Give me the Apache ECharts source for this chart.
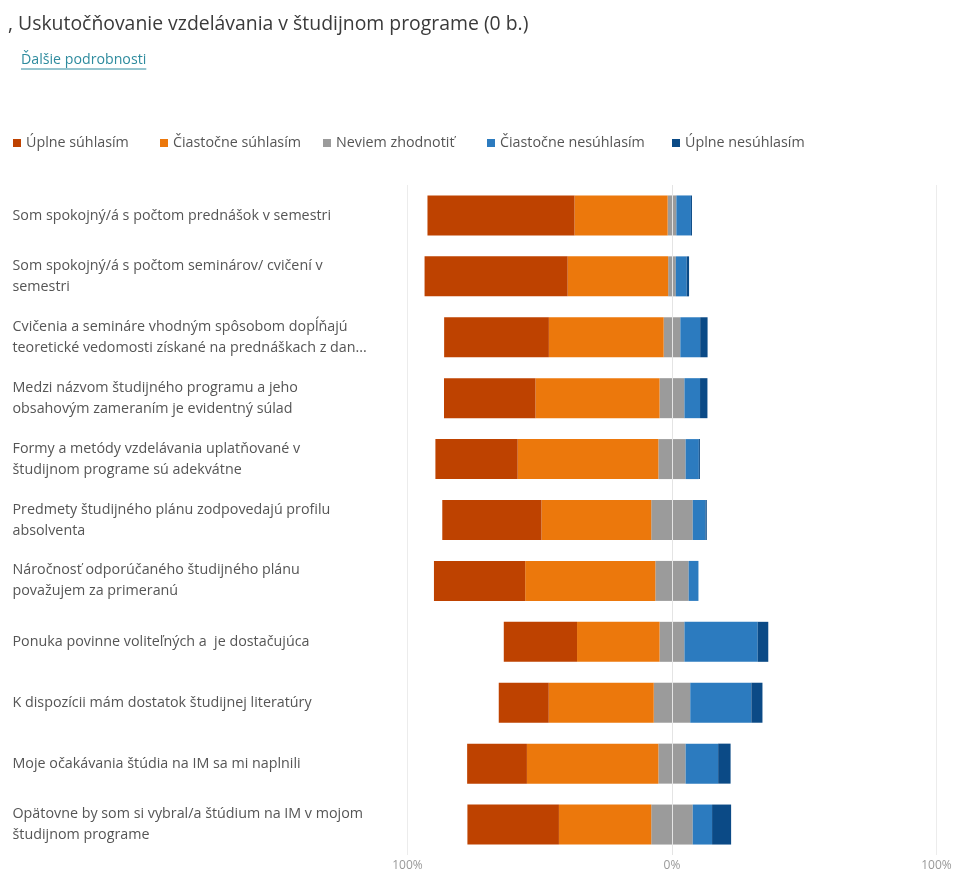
<!DOCTYPE html>
<html><head><meta charset="utf-8">
<script src="https://cdn.jsdelivr.net/npm/echarts@6/dist/echarts.min.js"></script>
<style>html,body{margin:0;padding:0;background:#fff}#c{width:957px;height:872px}</style>
</head><body><div id="c"></div>
<script>
const titleText = ', Uskutočňovanie vzdelávania v študijnom programe (0 b.)';
const linkText = 'Ďalšie podrobnosti';
const categories = [
  'Som spokojný/á s počtom prednášok v semestri',
  'Som spokojný/á s počtom seminárov/ cvičení v\nsemestri',
  'Cvičenia a semináre vhodným spôsobom dopĺňajú\nteoretické vedomosti získané na prednáškach z dan...',
  'Medzi názvom študijného programu a jeho\nobsahovým zameraním je evidentný súlad',
  'Formy a metódy vzdelávania uplatňované v\nštudijnom programe sú adekvátne',
  'Predmety študijného plánu zodpovedajú profilu\nabsolventa',
  'Náročnosť odporúčaného študijného plánu\npovažujem za primeranú',
  'Ponuka povinne voliteľných a  je dostačujúca',
  'K dispozícii mám dostatok študijnej literatúry',
  'Moje očakávania štúdia na IM sa mi naplnili',
  'Opätovne by som si vybral/a štúdium na IM v mojom\nštudijnom programe'
];
const seriesNames = ['Úplne súhlasím', 'Čiastočne súhlasím', 'Neviem zhodnotiť', 'Čiastočne nesúhlasím', 'Úplne nesúhlasím'];
const uplneSuhlasim      = [55.6, 54.1, 39.6, 34.6, 31.1, 37.5, 34.5, 27.7, 18.9, 22.6, 34.6];
const ciastocneSuhlasim  = [35.2, 38.0, 43.4, 46.9, 53.2, 41.5, 49.2, 31.2, 39.7, 49.7, 34.9];
const neviemZhodnotit    = [ 3.3,  2.9,  6.3,  9.4, 10.3, 15.7, 12.6,  9.4, 13.8, 10.3, 15.7];
const ciastocneNesuhlasim= [ 5.5,  4.1,  7.5,  5.9,  5.0,  4.8,  3.7, 27.7, 23.1, 12.3,  7.3];
const uplneNesuhlasim    = [ 0.4,  0.9,  2.8,  2.8,  0.4,  0.5,  0.0,  4.0,  4.2,  4.7,  7.2];
const axisTicks = [-100, 0, 100];
const colors = ['#BE4200', '#EC780C', '#9B9B9B', '#2C7BBF', '#0B4A86'];

const FONT = 'Open Sans';
const LABEL_SIZE = 14.3;
const chart = echarts.init(document.getElementById('c'), null, {renderer: 'canvas'});

const ctx = document.createElement('canvas').getContext('2d');
ctx.font = '14.2px "' + FONT + '"';
const linkW = ctx.measureText(linkText).width;

const neg = a => a.map(v => -v);
const half = a => a.map(v => v / 2);

const barW = 40;
function bar(name, data, color, extra) {
  return Object.assign({
    name, type: 'bar', stack: 'total', data, barWidth: barW,
    itemStyle: {color}, emphasis: {disabled: true}, animation: false
  }, extra || {});
}

const legendX = [13, 160, 323, 487, 672];
const legends = seriesNames.map((n, i) => ({
  data: [n], left: legendX[i], top: 134, padding: 0, itemWidth: 8, itemHeight: 8, icon: 'rect',
  itemGap: 0, selectedMode: false,
  textStyle: {color: '#555', fontSize: LABEL_SIZE, lineHeight: 18, fontFamily: FONT}
}));

chart.setOption({
  backgroundColor: '#fff',
  animation: false,
  textStyle: {fontFamily: FONT},
  color: colors,
  graphic: [
    {type: 'text', x: 8, y: 24, style: {text: titleText, fill: '#3a3a3a', font: '19.4px "' + FONT + '"', verticalAlign: 'middle'}},
    {type: 'text', x: 21, y: 60, style: {text: linkText, fill: '#2E8B9E', font: '14.2px "' + FONT + '"', verticalAlign: 'middle'}},
    {type: 'line', shape: {x1: 21, y1: 69, x2: 21 + linkW, y2: 69}, style: {stroke: '#2E8B9E', lineWidth: 1}}
  ],
  legend: legends,
  grid: {left: 407.5, right: 20.5, top: 185, bottom: 16.5, containLabel: false},
  xAxis: {
    type: 'value', min: axisTicks[0], max: axisTicks[axisTicks.length - 1], interval: 100,
    axisLine: {show: false}, axisTick: {show: false},
    splitLine: {show: true, lineStyle: {color: '#ECECEC', width: 1}},
    axisLabel: {formatter: v => Math.abs(v) + '%', color: '#999', fontSize: 12, margin: 5, fontFamily: FONT}
  },
  yAxis: {
    type: 'category', data: categories, inverse: true,
    axisLine: {show: false}, axisTick: {show: false},
    axisLabel: {align: 'left', margin: 395, color: '#555', fontSize: LABEL_SIZE, lineHeight: 21, fontFamily: FONT}
  },
  series: [
    bar(seriesNames[2], neg(half(neviemZhodnotit)), colors[2]),
    bar(seriesNames[1], neg(ciastocneSuhlasim), colors[1]),
    bar(seriesNames[0], neg(uplneSuhlasim), colors[0]),
    bar(seriesNames[2], half(neviemZhodnotit), colors[2], {
      markLine: {silent: true, symbol: 'none', label: {show: false}, z: 10,
        lineStyle: {color: '#E4E4E4', width: 1, type: 'solid'}, data: [{xAxis: 0}]}
    }),
    bar(seriesNames[3], ciastocneNesuhlasim, colors[3]),
    bar(seriesNames[4], uplneNesuhlasim, colors[4])
  ]
});
</script></body></html>
